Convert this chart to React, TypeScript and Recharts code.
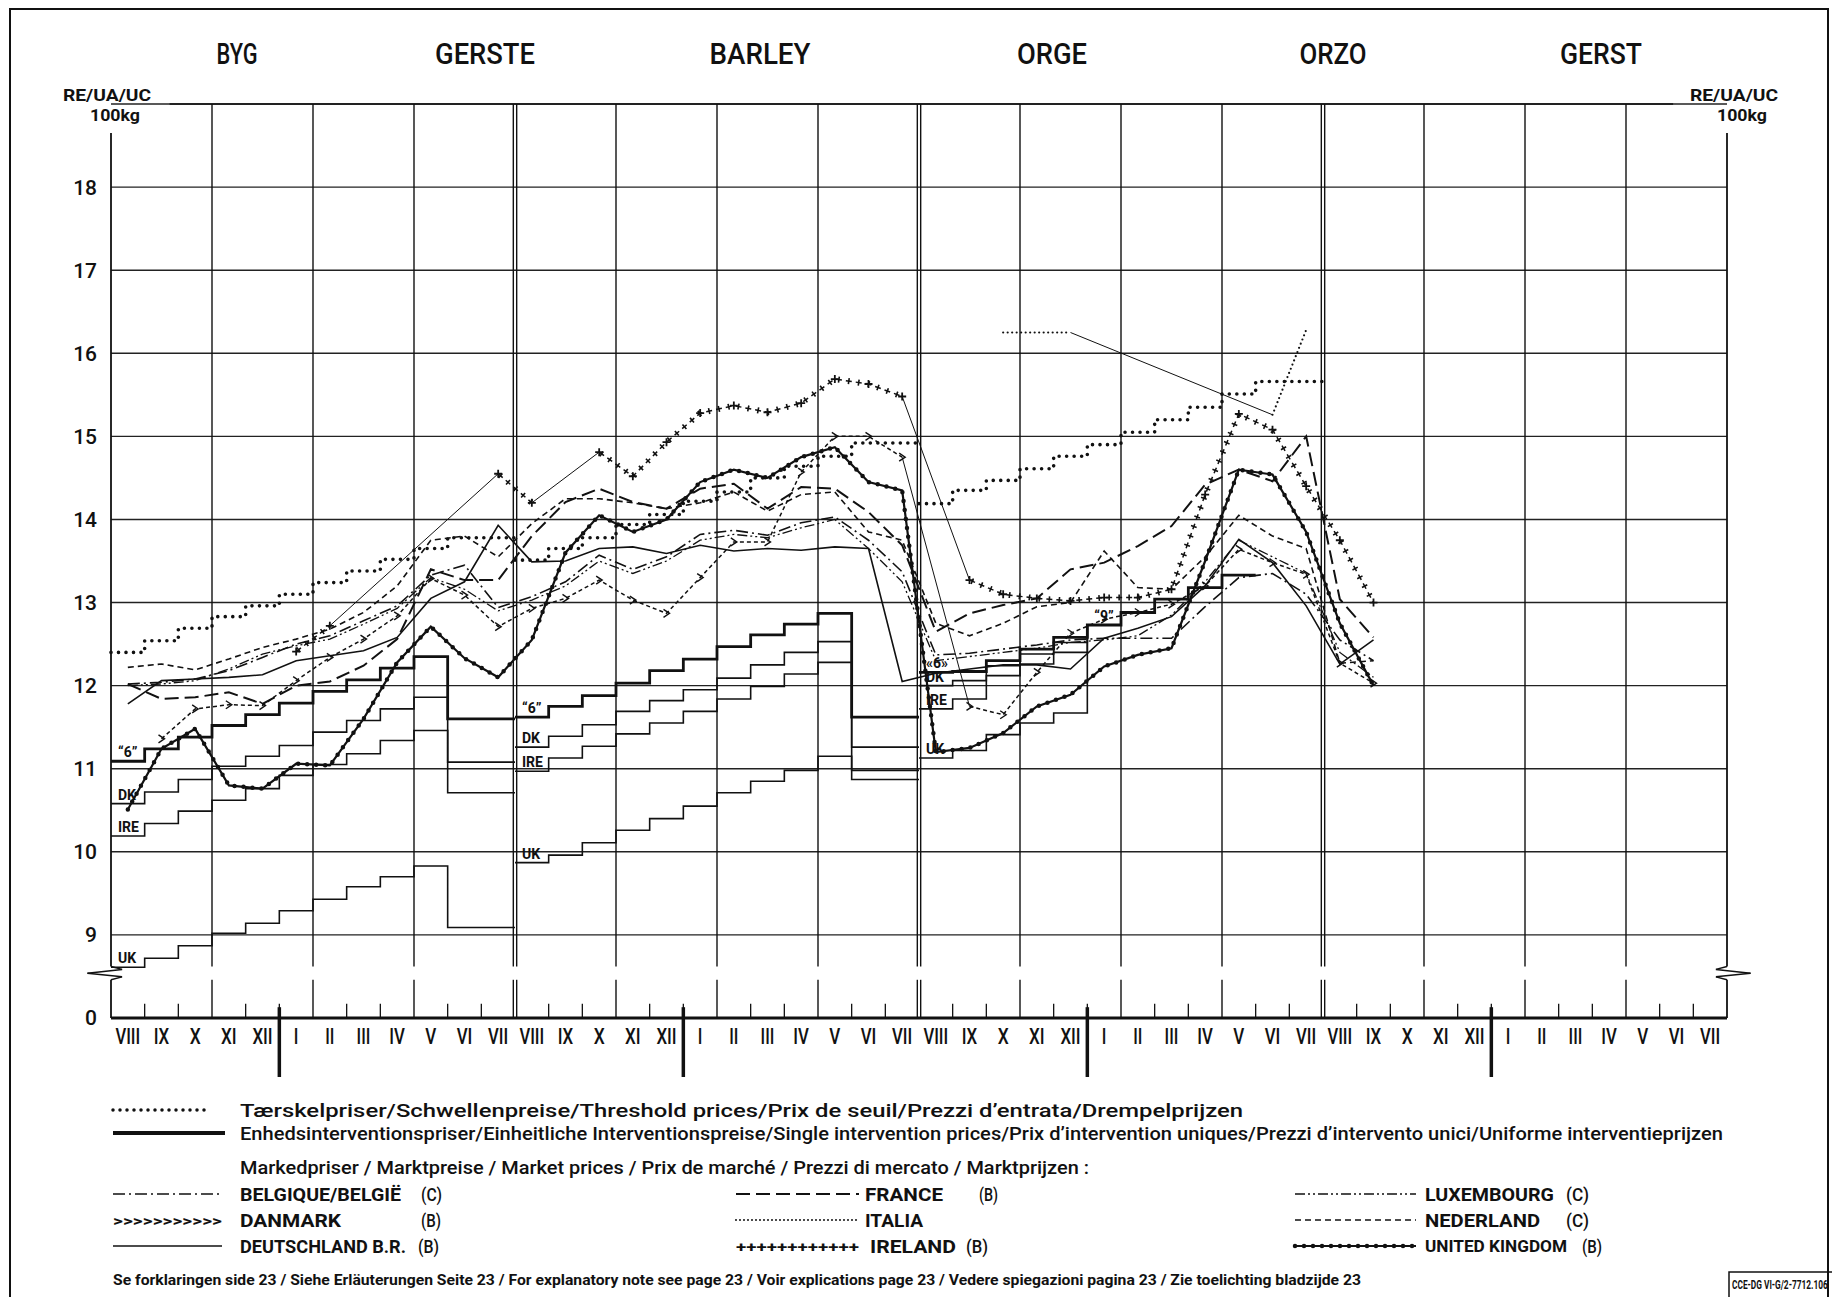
import React from 'react'
import { LineChart, Line, XAxis, YAxis, CartesianGrid, ReferenceLine } from 'recharts'

const FONT = "Roboto, 'DejaVu Sans', sans-serif"
const W = 1832
const CH = 1100

// months VIII 1975 .. VII 1979 (48 columns)
const monthLabels = [
  'VIII', 'IX', 'X', 'XI', 'XII',
  'I', 'II', 'III', 'IV', 'V', 'VI', 'VII', 'VIII', 'IX', 'X', 'XI', 'XII',
  'I', 'II', 'III', 'IV', 'V', 'VI', 'VII', 'VIII', 'IX', 'X', 'XI', 'XII',
  'I', 'II', 'III', 'IV', 'V', 'VI', 'VII', 'VIII', 'IX', 'X', 'XI', 'XII',
  'I', 'II', 'III', 'IV', 'V', 'VI', 'VII',
]
const yearLabels = ['1975', '1976', '1977', '1978', '1979']
const yearMid = [2.5, 11, 23, 35, 44.5]
const yearBreaks = [5, 17, 29, 41]
const titles = ['BYG', 'GERSTE', 'BARLEY', 'ORGE', 'ORZO', 'GERST']
const yTicks = [8, 9, 10, 11, 12, 13, 14, 15, 16, 17, 18]

// threshold prices per marketing year (VIII..VII)
const threshold7576 = [12.4, 12.54, 12.69, 12.83, 12.96, 13.1, 13.24, 13.38, 13.52, 13.65, 13.78, 13.78]
const threshold7677 = [13.51, 13.65, 13.78, 13.94, 14.06, 14.22, 14.33, 14.5, 14.64, 14.76, 14.92, 14.92]
const threshold7778 = [14.19, 14.35, 14.47, 14.61, 14.76, 14.9, 15.05, 15.2, 15.35, 15.51, 15.66, 15.66]

// single intervention prices
const eec7576 = [11.09, 11.24, 11.38, 11.52, 11.65, 11.79, 11.93, 12.07, 12.21, 12.35, 11.6, 11.6]
const eec7677 = [11.62, 11.75, 11.88, 12.03, 12.18, 12.32, 12.47, 12.61, 12.74, 12.87, 11.62, 11.62]
const eec7778 = [12.16, 12.17, 12.3, 12.44, 12.58, 12.73, 12.88, 13.04, 13.18, 13.33]
const dk7576 = [10.58, 10.72, 10.87, 11.03, 11.15, 11.28, 11.44, 11.58, 11.72, 11.86, 11.08, 11.08]
const dk7677 = [11.26, 11.39, 11.53, 11.69, 11.82, 11.95, 12.09, 12.25, 12.4, 12.53, 11.26, 11.26]
const dk7778 = [12.0, 12.06, 12.24, 12.38, 12.52]
const ire7576 = [10.19, 10.34, 10.49, 10.62, 10.76, 10.92, 11.05, 11.18, 11.34, 11.46, 10.71, 10.71]
const ire7677 = [10.97, 11.13, 11.27, 11.42, 11.55, 11.69, 11.84, 11.99, 12.14, 12.28, 10.98, 10.98]
const ire7778 = [11.72, 11.84, 12.12, 12.26, 12.4]
const ukI7576 = [8.61, 8.72, 8.87, 9.02, 9.14, 9.29, 9.43, 9.58, 9.7, 9.83, 9.09, 9.09]
const ukI7677 = [9.87, 9.96, 10.11, 10.26, 10.4, 10.55, 10.71, 10.85, 10.98, 11.15, 10.87, 10.87]
const ukI7778 = [11.13, 11.22, 11.41, 11.55, 11.67]

// market prices, monthly VIII 1975 .. IX 1978
const belgique = [12.02, 12.04, 12.08, 12.18, 12.34, 12.5, 12.6, 12.78, 12.96, 13.33, 13.45, 12.94, 13.07, 13.25, 13.57, 13.4, 13.55, 13.82, 13.87, 13.81, 13.96, 14.03, 13.75, 13.37, 12.37, 12.39, 12.44, 12.49, 12.55, 12.57, 12.57, 12.57, 12.95, 13.3, 13.35, 13.1, 12.55, 12.3]
const luxembourg = [12.0, 12.02, 12.06, 12.2, 12.38, 12.48, 12.56, 12.74, 12.93, 13.3, 13.16, 12.9, 13.03, 13.2, 13.5, 13.35, 13.5, 13.75, 13.82, 13.78, 13.9, 14.0, 13.65, 13.25, 12.3, 12.35, 12.4, 12.45, 12.52, 12.55, 12.6, 12.85, 13.25, 13.75, 13.55, 13.35, 12.4, 12.1]
const danmark = [null, 11.36, 11.72, 11.77, 11.76, 12.06, 12.34, 12.56, 12.84, 13.29, 13.09, 12.71, 12.93, 13.05, 13.27, 13.03, 12.87, 13.3, 13.73, 13.73, 14.57, 15.0, 15.0, 14.75, null, 11.75, 11.65, 12.16, 12.63, 12.8, 12.88, 12.98, 13.2, 13.64, 13.48, 13.34, 12.27, 12.03]
const deutschland = [11.78, 12.06, 12.08, 12.1, 12.13, 12.3, 12.36, 12.42, 12.58, 13.05, 13.25, 13.93, 13.49, 13.5, 13.65, 13.67, 13.59, 13.69, 13.62, 13.65, 13.63, 13.67, 13.65, 12.05, 12.15, 12.2, 12.25, 12.25, 12.2, 12.57, 12.69, 12.83, 13.2, 13.76, 13.48, 12.96, 12.26, 12.55]
const france = [12.02, 11.84, 11.86, 11.92, 11.78, 12.0, 12.05, 12.24, 12.56, 13.4, 13.27, 13.27, 13.8, 14.21, 14.37, 14.21, 14.13, 14.37, 14.43, 14.13, 14.39, 14.37, 14.09, 13.69, 12.65, 12.87, 12.97, 13.05, 13.4, 13.48, 13.68, 13.92, 14.42, 14.6, 14.46, 15.0, 13.04, 12.58]
const italia = [null, null, null, null, null, null, null, null, null, null, null, null, null, null, null, null, null, null, null, null, null, null, null, null, null, null, 16.25, 16.25, 16.25, null, null, null, null, null, 15.26, 16.28, null, null]
const ireland = [null, null, null, null, null, 12.41, 12.72, null, null, null, null, 14.55, 14.2, null, 14.81, 14.52, 14.93, 15.28, 15.37, 15.29, 15.4, 15.69, 15.63, 15.48, null, 13.27, 13.1, 13.05, 13.02, 13.06, 13.06, 13.16, 14.3, 15.27, 15.08, 14.4, 13.75, 13.0]
const nederland = [12.22, 12.26, 12.19, 12.32, 12.46, 12.56, 12.68, 12.88, 13.2, 13.75, 13.8, 13.55, 13.95, 14.25, 14.25, 14.2, 14.13, 14.2, 14.33, 14.1, 14.3, 14.33, 13.85, 13.75, 12.75, 12.6, 12.75, 12.95, 13.0, 13.62, 13.18, 13.16, 13.55, 14.05, 13.8, 13.65, 12.27, 12.3]
const ukMarket = [10.51, 11.24, 11.48, 10.8, 10.76, 11.06, 11.04, 11.6, 12.28, 12.71, 12.33, 12.1, 12.55, 13.6, 14.05, 13.85, 14.0, 14.45, 14.6, 14.5, 14.75, 14.87, 14.45, 14.35, 11.2, 11.25, 11.43, 11.75, 11.89, 12.23, 12.37, 12.45, 13.5, 14.6, 14.54, 13.85, 12.75, 12.0]

type Pt = { x: number; y: number | null }

const stepData = (start: number, values: number[], endValue?: number): Pt[] => {
  const pts: Pt[] = values.map((v, i) => ({ x: start + i, y: v }))
  pts.push({ x: start + values.length, y: endValue ?? values[values.length - 1] })
  return pts
}
const monthly = (values: (number | null)[]): Pt[] => values.map((v, i) => ({ x: i + 0.5, y: v }))

// thin connectors drawn across months without data
const gapLinks = (values: (number | null)[]): Pt[][] => {
  const out: Pt[][] = []
  let last = -1
  values.forEach((v, i) => {
    if (v == null) return
    if (last >= 0 && i - last > 1) out.push([{ x: last + 0.5, y: values[last] }, { x: i + 0.5, y: v }])
    last = i
  })
  return out
}

const INK = '#111'
const ax = { xAxisId: 'm', yAxisId: 'l' }

const MonthTick = (props: any) => {
  const { x, y, payload } = props
  const label = monthLabels[Math.floor(payload.value)] || ''
  const w = label.split('').reduce((s, c) => s + (c === 'I' ? 4.6 : 11), 0)
  return (
    <text x={x} y={y + 26} textAnchor="middle" fontSize={22} fontFamily={FONT} fontWeight={500} fill={INK} textLength={w} lengthAdjust="spacingAndGlyphs">
      {label}
    </text>
  )
}

const YearTick = (props: any) => {
  const { x, y, payload } = props
  const i = yearMid.indexOf(payload.value)
  return (
    <text x={x} y={y + 24} textAnchor="middle" fontSize={35} fontFamily={FONT} fontWeight={500} fill={INK} textLength={61} lengthAdjust="spacingAndGlyphs">
      {yearLabels[i]}
    </text>
  )
}

const stepLabel = (labels: Record<number, string>, dx = 7) => (p: any) => {
  const t = labels[p.index]
  if (!t) return <g key={`sl-${p.index}`} />
  return (
    <text key={`sl-${p.index}`} x={p.x + dx} y={p.y - 4} fontSize={14} fontWeight={700} fontFamily={FONT} fill={INK}>
      {t}
    </text>
  )
}

const crossDot = (p: any) => {
  if (p.value == null || p.cy == null) return <g key={`c-${p.index}`} />
  return <path key={`c-${p.index}`} d={`M${p.cx - 4},${p.cy}H${p.cx + 4}M${p.cx},${p.cy - 4}V${p.cy + 4}`} stroke={INK} strokeWidth={1.8} />
}
const chevronDot = (p: any) => {
  if (p.value == null || p.cy == null) return <g key={`v-${p.index}`} />
  return <path key={`v-${p.index}`} d={`M${p.cx - 3},${p.cy - 4}L${p.cx + 3},${p.cy}L${p.cx - 3},${p.cy + 4}`} fill="none" stroke={INK} strokeWidth={1.4} />
}

const seg = (x1: number, y1: number, x2: number, y2: number) => [{ x: x1, y: y1 }, { x: x2, y: y2 }]

// frame pieces: vertical grid every 3 months (interrupted at the axis break), month ticks, axes
const gridMonths = Array.from({ length: 15 }, (_, k) => 3 * (k + 1))
const frameSegs: { s: any; w: number; over?: boolean }[] = []
gridMonths.forEach((m) => {
  const xs = m % 12 === 0 ? [m - 0.05, m + 0.05] : [m]
  xs.forEach((x) => {
    frameSegs.push({ s: seg(x, 8, x, 8.46), w: 1.4 })
    frameSegs.push({ s: seg(x, 8.62, x, 19), w: 1.4 })
  })
})
for (let i = 1; i < 48; i++) if (i % 3 !== 0) frameSegs.push({ s: seg(i, 8, i, 8.17), w: 1.3 })
;[0, 48].forEach((x) => {
  frameSegs.push({ s: seg(x, 8, x, 8.46), w: 1.8 })
  frameSegs.push({ s: seg(x, 8.62, x, 18.65), w: 1.8 })
})
frameSegs.push({ s: seg(1.74, 19, 46.4, 19), w: 1.4 })
const zig = (x: number, d: number) => [
  seg(x, 8.62, x + 0.33 * d, 8.585),
  seg(x + 0.33 * d, 8.585, x - 0.7 * d, 8.54),
  seg(x - 0.7 * d, 8.54, x + 0.33 * d, 8.495),
  seg(x + 0.33 * d, 8.495, x, 8.46),
]
zig(0, 1).concat(zig(48, -1)).forEach((s) => frameSegs.push({ s, w: 1.5, over: true }))
yearBreaks.forEach((x) => frameSegs.push({ s: seg(x, 8.13, x, 7.29), w: 3.5, over: true }))

const stepLine = (key: string, data: Pt[], width: number, labels?: Record<number, string>, dash?: string) => (
  <Line
    key={key}
    {...ax}
    data={data}
    dataKey="y"
    type="stepAfter"
    stroke={INK}
    strokeWidth={width}
    strokeDasharray={dash}
    strokeLinecap={dash ? 'round' : 'butt'}
    dot={false}
    activeDot={false}
    label={labels ? stepLabel(labels) : undefined}
    isAnimationActive={false}
  />
)

const marketLine = (key: string, values: (number | null)[], props: any) => (
  <Line key={key} {...ax} data={monthly(values)} dataKey="y" type="linear" stroke={INK} dot={false} activeDot={false} isAnimationActive={false} {...props} />
)

const links = [...gapLinks(ireland), ...gapLinks(italia), ...gapLinks(danmark)]

function Legend() {
  const t = (x: number, y: number, s: string, len?: number, size = 19, weight = 500) => (
    <text x={x} y={y} fontSize={size} fontWeight={weight} fontFamily={FONT} fill={INK} textLength={len} lengthAdjust={len ? 'spacingAndGlyphs' : undefined}>
      {s}
    </text>
  )
  const ln = (x1: number, x2: number, y: number, w: number, dash?: string, cap: any = 'butt') => (
    <line x1={x1} x2={x2} y1={y} y2={y} stroke={INK} strokeWidth={w} strokeDasharray={dash} strokeLinecap={cap} />
  )
  const rows = [1194, 1220, 1246]
  return (
    <svg width={W} height={1297} style={{ position: 'absolute', left: 0, top: 0, pointerEvents: 'none' }}>
      <path d="M10,1297 V9 H1828 V1297" fill="none" stroke={INK} strokeWidth={2} />
      {titles.map((s, i) => {
        const cx = [237, 485, 760, 1052, 1333, 1601][i]
        const len = [41, 100, 101, 70, 67, 82][i]
        return (
          <text key={s} x={cx} y={64} textAnchor="middle" fontSize={29} fontWeight={500} fontFamily={FONT} fill={INK} textLength={len} lengthAdjust="spacingAndGlyphs">
            {s}
          </text>
        )
      })}
      {[107, 1734].map((cx) => (
        <g key={cx}>
          <text x={cx} y={101} textAnchor="middle" fontSize={16} fontWeight={700} fontFamily={FONT} fill={INK} textLength={88} lengthAdjust="spacingAndGlyphs">RE/UA/UC</text>
          <text x={cx + 8} y={121} textAnchor="middle" fontSize={16} fontWeight={700} fontFamily={FONT} fill={INK} textLength={50} lengthAdjust="spacingAndGlyphs">100kg</text>
        </g>
      ))}
      {ln(113, 210, 1110, 3.5, '0 7', 'round')}
      {t(240, 1117, 'Tærskelpriser/Schwellenpreise/Threshold prices/Prix de seuil/Prezzi d\u2019entrata/Drempelprijzen', 1003)}
      {ln(113, 225, 1133, 4)}
      {t(240, 1140, 'Enhedsinterventionspriser/Einheitliche Interventionspreise/Single intervention prices/Prix d\u2019intervention uniques/Prezzi d\u2019intervento unici/Uniforme interventieprijzen', 1483)}
      {t(240, 1174, 'Markedpriser / Marktpreise / Market prices / Prix de marché / Prezzi di mercato / Marktprijzen  :', 849)}
      {ln(113, 222, rows[0], 1.6, '12 4 2 4')}
      {t(240, rows[0] + 7, 'BELGIQUE/BELGIË', 161, 19, 700)}
      {t(421, rows[0] + 7, '(C)', 21)}
      <text x={113} y={rows[1] + 6} fontSize={15} fontFamily={FONT} fontWeight={700} fill={INK} textLength={109} lengthAdjust="spacingAndGlyphs">{'>>>>>>>>>>>'}</text>
      {t(240, rows[1] + 7, 'DANMARK', 101, 19, 700)}
      {t(421, rows[1] + 7, '(B)', 20)}
      {ln(113, 222, rows[2], 1.6)}
      {t(240, rows[2] + 7, 'DEUTSCHLAND B.R.', 166, 19, 700)}
      {t(418, rows[2] + 7, '(B)', 21)}
      {ln(736, 859, rows[0], 2, '14 6')}
      {t(865, rows[0] + 7, 'FRANCE', 78, 19, 700)}
      {t(979, rows[0] + 7, '(B)', 19)}
      {ln(736, 859, rows[1], 2, '0 4', 'round')}
      {t(865, rows[1] + 7, 'ITALIA', 58, 19, 700)}
      <text x={736} y={rows[2] + 6} fontSize={15} fontFamily={FONT} fontWeight={700} fill={INK} textLength={123} lengthAdjust="spacingAndGlyphs">{'++++++++++++'}</text>
      {t(870, rows[2] + 7, 'IRELAND', 86, 19, 700)}
      {t(966, rows[2] + 7, '(B)', 22)}
      {ln(1295, 1416, rows[0], 1.4, '10 3 2 3 2 3')}
      {t(1425, rows[0] + 7, 'LUXEMBOURG', 129, 19, 700)}
      {t(1566, rows[0] + 7, '(C)', 23)}
      {ln(1295, 1416, rows[1], 1.6, '6 4')}
      {t(1425, rows[1] + 7, 'NEDERLAND', 115, 19, 700)}
      {t(1566, rows[1] + 7, '(C)', 23)}
      {ln(1295, 1416, rows[2], 1.8)}
      {ln(1295, 1416, rows[2], 4.5, '0 9', 'round')}
      {t(1425, rows[2] + 6, 'UNITED KINGDOM', 142, 17, 700)}
      {t(1582, rows[2] + 7, '(B)', 20)}
      {t(113, 1285, 'Se forklaringen side 23 / Siehe Erläuterungen Seite 23 / For explanatory note see page 23 / Voir explications page 23 / Vedere spiegazioni pagina 23 / Zie toelichting bladzijde 23', 1248, 15, 700)}
      <path d="M1729,1297 V1272 H1832" fill="none" stroke={INK} strokeWidth={1.5} />
      <text transform="translate(1732,1289) scale(0.64,1)" fontSize={13} fontWeight={700} fontFamily={FONT} fill={INK}>
        CCE-DG VI-G/2-7712.106
      </text>
    </svg>
  )
}

export default function App() {
  return (
    <div style={{ position: 'absolute', left: 0, top: 0, width: W, height: 1297, background: '#fff', fontFamily: FONT, overflow: 'hidden' }}>
      <LineChart width={W} height={CH} margin={{ top: 104, right: 55, bottom: 2, left: 61 }}>
        <CartesianGrid xAxisId="m" yAxisId="l" vertical={false} stroke="#222" strokeWidth={1.4} />
        <XAxis xAxisId="m" dataKey="x" type="number" domain={[0, 48]} ticks={monthLabels.map((_, i) => i + 0.5)} interval={0} tick={MonthTick} tickLine={false} tickSize={0} tickMargin={0} height={35} axisLine={{ stroke: INK, strokeWidth: 3 }} />
        <XAxis xAxisId="yr" dataKey="x" type="number" domain={[0, 48]} ticks={yearMid} interval={0} tick={YearTick} tickLine={false} tickSize={0} tickMargin={0} height={45} axisLine={false} />
        <YAxis yAxisId="l" type="number" domain={[8, 19]} ticks={yTicks} interval={0} width={50} axisLine={false} tickLine={false} tickSize={0} tickMargin={14} tickFormatter={(v: number) => (v === 8 ? '0' : String(v))} tick={{ fontSize: 21, fill: INK, fontFamily: FONT, fontWeight: 500 }} />
        <YAxis yAxisId="r" orientation="right" type="number" domain={[8, 19]} ticks={yTicks} interval={0} width={50} axisLine={false} tickLine={false} tickSize={0} tickMargin={14} tickFormatter={(v: number) => (v === 8 ? '0' : String(v))} tick={{ fontSize: 21, fill: INK, fontFamily: FONT, fontWeight: 500 }} />

        {frameSegs.map((f, i) => (
          <ReferenceLine key={`f${i}`} {...ax} segment={f.s} stroke={INK} strokeWidth={f.w} ifOverflow={f.over ? 'visible' : 'discard'} />
        ))}

        {stepLine('th1', stepData(0, threshold7576), 3.6, undefined, '0 7.5')}
        {stepLine('th2', stepData(12, threshold7677), 3.6, undefined, '0 7.5')}
        {stepLine('th3', stepData(24, threshold7778), 3.6, undefined, '0 7.5')}

        {stepLine('e1', stepData(0, eec7576), 2.8, { 0: '\u201c6\u201d' })}
        {stepLine('e2', stepData(12, eec7677), 2.8, { 0: '\u201c6\u201d' })}
        {stepLine('e3', stepData(24, eec7778), 2.8, { 0: '\u00ab6\u00bb', 5: '\u201c9\u201d' })}
        {stepLine('d1', stepData(0, dk7576), 1.6, { 0: 'DK' })}
        {stepLine('d2', stepData(12, dk7677), 1.6, { 0: 'DK' })}
        {stepLine('d3', stepData(24, dk7778, eec7778[5]), 1.6, { 0: 'DK' })}
        {stepLine('i1', stepData(0, ire7576), 1.6, { 0: 'IRE' })}
        {stepLine('i2', stepData(12, ire7677), 1.6, { 0: 'IRE' })}
        {stepLine('i3', stepData(24, ire7778, eec7778[5]), 1.6, { 0: 'IRE' })}
        {stepLine('u1', stepData(0, ukI7576), 1.6, { 0: 'UK' })}
        {stepLine('u2', stepData(12, ukI7677), 1.6, { 0: 'UK' })}
        {stepLine('u3', stepData(24, ukI7778, eec7778[5]), 1.6, { 0: 'UK' })}

        {links.map((d, i) => (
          <Line key={`lk${i}`} {...ax} data={d} dataKey="y" type="linear" stroke={INK} strokeWidth={1} dot={false} activeDot={false} isAnimationActive={false} />
        ))}

        {marketLine('be', belgique, { strokeWidth: 1.6, strokeDasharray: '12 4 2 4' })}
        {marketLine('lu', luxembourg, { strokeWidth: 1.3, strokeDasharray: '10 3 2 3 2 3' })}
        {marketLine('dk', danmark, { strokeWidth: 1.5, strokeDasharray: '4 3', dot: chevronDot })}
        {marketLine('de', deutschland, { strokeWidth: 1.6 })}
        {marketLine('fr', france, { strokeWidth: 2, strokeDasharray: '14 6' })}
        {marketLine('it', italia, { strokeWidth: 2.2, strokeDasharray: '0 4.5', strokeLinecap: 'round' })}
        {marketLine('ie', ireland, { strokeWidth: 1.5, strokeDasharray: '6 4' })}
        {marketLine('ie2', ireland, { strokeWidth: 6, strokeDasharray: '0 2.2 1.6 6.2', dot: crossDot })}
        {marketLine('nl', nederland, { strokeWidth: 1.6, strokeDasharray: '6 4' })}
        {marketLine('uk', ukMarket, { strokeWidth: 2.2 })}
        {marketLine('uk2', ukMarket, { strokeWidth: 4.5, strokeDasharray: '0 9', strokeLinecap: 'round' })}
      </LineChart>
      <Legend />
    </div>
  )
}
